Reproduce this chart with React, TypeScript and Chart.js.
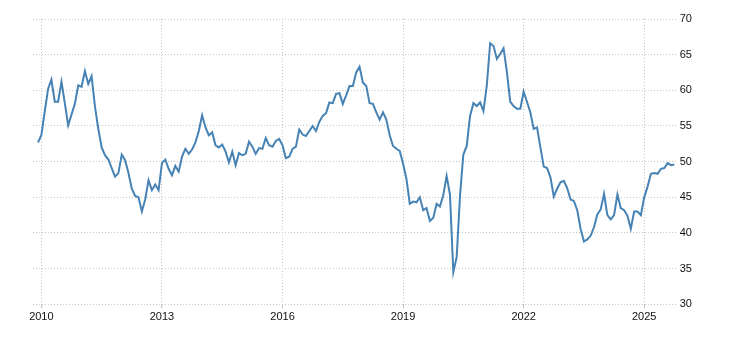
import React, { useEffect, useRef } from "react";
import { Chart, registerables } from "chart.js";

Chart.register(...registerables);

// Monthly values, Dec 2009 .. Oct 2025
const y2009 = [52.7];
const y2010 = [53.7, 57.0, 60.2, 61.5, 58.4, 58.4, 61.2, 58.2, 55.1, 56.6, 58.1, 60.7];
const y2011 = [60.5, 62.7, 60.9, 62.0, 57.7, 54.6, 52.0, 50.9, 50.3, 49.1, 47.9, 48.4];
const y2012 = [51.0, 50.2, 48.4, 46.2, 45.2, 45.0, 43.0, 44.7, 47.4, 46.0, 46.8, 46.0];
const y2013 = [49.8, 50.3, 49.0, 48.1, 49.4, 48.6, 50.7, 51.8, 51.1, 51.7, 52.7, 54.3];
const y2014 = [56.5, 54.8, 53.7, 54.1, 52.3, 52.0, 52.4, 51.4, 49.9, 51.4, 49.5, 51.2];
const y2015 = [50.9, 51.1, 52.8, 52.1, 51.1, 51.9, 51.8, 53.3, 52.3, 52.1, 52.9, 53.2];
const y2016 = [52.3, 50.5, 50.7, 51.8, 52.1, 54.5, 53.8, 53.6, 54.3, 55.0, 54.3, 55.6];
const y2017 = [56.4, 56.8, 58.3, 58.2, 59.5, 59.6, 58.1, 59.3, 60.6, 60.6, 62.5, 63.3];
const y2018 = [61.1, 60.6, 58.2, 58.1, 56.9, 55.9, 56.9, 55.9, 53.7, 52.2, 51.8, 51.5];
const y2019 = [49.7, 47.6, 44.1, 44.4, 44.3, 45.0, 43.2, 43.5, 41.7, 42.1, 44.1, 43.7];
const y2020 = [45.3, 48.0, 45.4, 34.5, 36.6, 45.2, 51.0, 52.2, 56.4, 58.2, 57.8, 58.3];
const y2021 = [57.1, 60.7, 66.6, 66.2, 64.4, 65.1, 65.9, 62.6, 58.4, 57.8, 57.4, 57.4];
const y2022 = [59.8, 58.4, 56.9, 54.6, 54.8, 52.0, 49.3, 49.1, 47.8, 45.1, 46.2, 47.1];
const y2023 = [47.3, 46.3, 44.7, 44.5, 43.2, 40.6, 38.8, 39.1, 39.6, 40.8, 42.6, 43.3];
const y2024 = [45.5, 42.5, 41.9, 42.5, 45.4, 43.5, 43.2, 42.4, 40.6, 43.0, 43.0, 42.5];
const y2025 = [45.0, 46.5, 48.3, 48.4, 48.3, 49.0, 49.1, 49.8, 49.5, 49.6];

const series = [
  ...y2009, ...y2010, ...y2011, ...y2012, ...y2013, ...y2014, ...y2015, ...y2016,
  ...y2017, ...y2018, ...y2019, ...y2020, ...y2021, ...y2022, ...y2023, ...y2024, ...y2025,
];

// month offset of first value relative to Jan 2010
const firstMonth = -1;
const tickYears = ["2010", "2013", "2016", "2019", "2022", "2025"];
const baseYear = 2010;

const FONT = { family: "Arial, 'Liberation Sans', sans-serif", size: 11 };

export default function App() {
  const ref = useRef<HTMLCanvasElement | null>(null);

  useEffect(() => {
    document.body.style.margin = "0";
    const canvas = ref.current;
    if (!canvas) return;
    const points = series.map((v, i) => ({ x: firstMonth + i, y: v }));
    const chart = new Chart(canvas, {
      type: "line",
      data: {
        datasets: [
          {
            data: points,
            borderColor: "#4682B4",
            borderWidth: 2,
            pointRadius: 0,
            tension: 0,
            fill: false,
          },
        ],
      },
      options: {
        animation: false,
        responsive: false,
        devicePixelRatio: 1,
        layout: { padding: { top: 19, left: 33, right: 0, bottom: 0 } },
        plugins: { legend: { display: false }, tooltip: { enabled: false } },
        scales: {
          x: {
            type: "linear",
            min: -2.5,
            max: 189.7,
            afterBuildTicks: (scale: any) => {
              scale.ticks = tickYears.map((y) => ({ value: (Number(y) - baseYear) * 12 }));
            },
            afterFit: (scale: any) => {
              scale.height = 35.7;
            },
            grid: { color: "#c4c4c4", drawTicks: true, tickLength: 4, lineWidth: 1 },
            border: { display: false, dash: [1, 2] },
            ticks: {
              autoSkip: false,
              maxRotation: 0,
              padding: 2,
              color: "#111",
              font: FONT,
              callback: (value: any) => {
                const yr = baseYear + Math.round(Number(value) / 12);
                return String(yr);
              },
            },
          },
          y: {
            position: "right",
            min: 30,
            max: 70,
            afterFit: (scale: any) => {
              scale.width = 53.3;
            },
            grid: { color: "#c4c4c4", drawTicks: false, lineWidth: 1 },
            border: { display: false, dash: [1, 2] },
            ticks: { stepSize: 5, padding: 3, color: "#111", font: FONT },
          },
        },
      },
    });
    return () => chart.destroy();
  }, []);

  return (
    <div style={{ width: 730, height: 340 }}>
      <canvas ref={ref} width={730} height={340} />
    </div>
  );
}
